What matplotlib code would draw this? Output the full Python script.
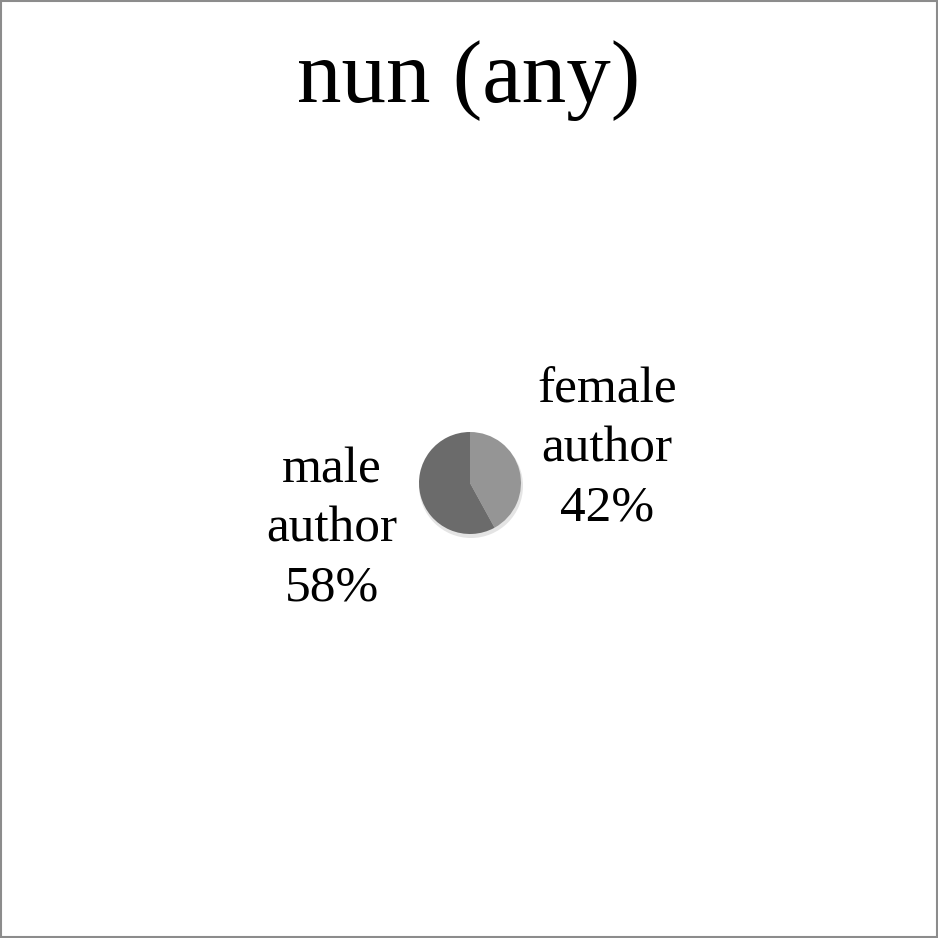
import matplotlib.pyplot as plt
from matplotlib.patches import Rectangle

title = 'nun (any)'
labels = ['female\nauthor', 'male\nauthor']
shares = [42, 58]
colors = ['#959595', '#6b6b6b']

fig = plt.figure(figsize=(9.38, 9.38), dpi=100)
ax = fig.add_axes([0, 0, 1, 1])

# soft shadow under the pie
ax.pie([1], radius=52, center=(471, 452), colors=['#e4e4e4'], startangle=90,
       frame=True)
wedges, _ = ax.pie(shares, radius=51, center=(470, 455), colors=colors,
                   startangle=90, counterclock=False, frame=True)
ax.set_xlim(0, 938)
ax.set_ylim(0, 938)
ax.set_aspect('equal')
ax.axis('off')

font = ['Liberation Serif', 'DejaVu Serif']
label_pos = [(607, 938 - 449), (332, 938 - 529)]
for lab, val, (x, y) in zip(labels, shares, label_pos):
    ax.text(x, y, f'{lab}\n{val}%', ha='center', va='center', fontsize=37,
            linespacing=1.35, family=font)

ax.text(469, 938 - 80, title, ha='center', va='center', fontsize=64, family=font)

ax.add_patch(Rectangle((1, 1), 936, 936, fill=False, edgecolor='#8c8c8c', lw=1.5))

fig.savefig('out.png', dpi=100)
